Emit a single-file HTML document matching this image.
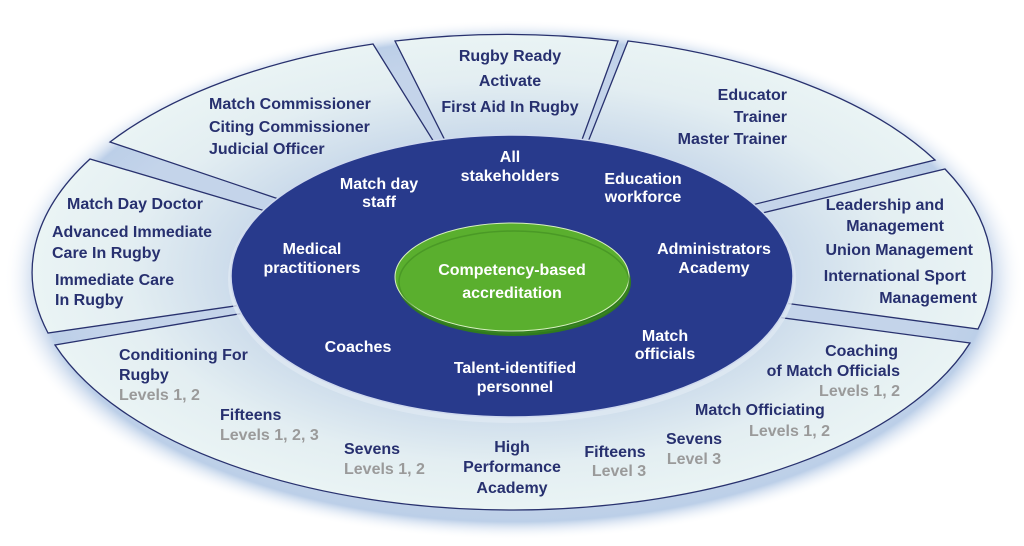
<!DOCTYPE html>
<html><head><meta charset="utf-8"><style>
html,body{margin:0;padding:0;background:#fff;width:1024px;height:546px;overflow:hidden}
svg text{font-family:"Liberation Sans",sans-serif;font-weight:bold;font-size:16px}
.d{fill:#27306f}.w{fill:#fff}.g{fill:#9a9a9a}
</style></head><body>
<svg width="1024" height="546" viewBox="0 0 1024 546" xmlns="http://www.w3.org/2000/svg">
<defs>
<radialGradient id="glow" cx="50%" cy="50%" r="50%">
<stop offset="0.82" stop-color="#c4d4ea"/><stop offset="0.93" stop-color="#bccfe8"/><stop offset="1" stop-color="#fff" stop-opacity="0"/>
</radialGradient>
<radialGradient id="seg" cx="512" cy="272" r="480" gradientUnits="userSpaceOnUse" gradientTransform="translate(512 272) scale(1 0.5) translate(-512 -272)">
<stop offset="0.55" stop-color="#c9d9ea"/><stop offset="0.8" stop-color="#e3eef2"/><stop offset="1" stop-color="#eaf4f4"/>
</radialGradient>
</defs>
<ellipse cx="514" cy="280" rx="510" ry="260" fill="url(#glow)"/>
<g fill="url(#seg)" stroke="#28316e" stroke-width="1.3">
<path d="M400 240 L110 142 A480 238 0 0 1 373 44 L470 200 Z"/>
<path d="M475 200 L395 41 A480 238 0 0 1 618 41 L560 200 Z"/>
<path d="M565 200 L628 41 A480 238 0 0 1 935 160 L650 230 Z"/>
<path d="M650 240 L945 169 A480 238 0 0 1 978 329 L650 285 Z"/>
<path d="M650 300 L970 343 A480 238 0 0 1 55 345 L380 290 Z"/>
<path d="M380 285 L48 333 A480 238 0 0 1 90 159 L380 245 Z"/>
</g>
<ellipse cx="512" cy="279" rx="284" ry="144" fill="#dfe8f2" opacity="0.8"/>
<ellipse cx="512" cy="276" rx="281" ry="141" fill="#283a8c" stroke="#cfd9ee" stroke-width="1.5"/>
<ellipse cx="514" cy="282" rx="117" ry="54" fill="#2f7a1e"/>
<ellipse cx="512" cy="277" rx="117" ry="54" fill="#5aaf2e" stroke="#d8f0c0" stroke-width="1"/>
<ellipse cx="514" cy="282" rx="115" ry="51" fill="none" stroke="#3f8a22" stroke-width="1.5" opacity="0.6"/>

<g class="d">
<text x="209" y="109">Match Commissioner</text>
<text x="209" y="132">Citing Commissioner</text>
<text x="209" y="154">Judicial Officer</text>
</g>
<g class="d" text-anchor="middle">
<text x="510" y="61">Rugby Ready</text>
<text x="510" y="86">Activate</text>
<text x="510" y="112">First Aid In Rugby</text>
</g>
<g class="d" text-anchor="end">
<text x="787" y="100">Educator</text>
<text x="787" y="122">Trainer</text>
<text x="787" y="144">Master Trainer</text>
<text x="944" y="210">Leadership and</text>
<text x="944" y="231">Management</text>
<text x="973" y="255">Union Management</text>
<text x="966" y="281">International Sport</text>
<text x="977" y="303">Management</text>
</g>
<g class="d">
<text x="67" y="209">Match Day Doctor</text>
<text x="52" y="237">Advanced Immediate</text>
<text x="52" y="258">Care In Rugby</text>
<text x="55" y="285">Immediate Care</text>
<text x="55" y="305">In Rugby</text>
<text x="119" y="360">Conditioning For</text>
<text x="119" y="380">Rugby</text>
<text x="220" y="420">Fifteens</text>
<text x="344" y="454">Sevens</text>
<text x="695" y="415">Match Officiating</text>
</g>
<g class="g">
<text x="119" y="400">Levels 1, 2</text>
<text x="220" y="440">Levels 1, 2, 3</text>
<text x="344" y="474">Levels 1, 2</text>
</g>
<g class="d" text-anchor="middle">
<text x="512" y="452">High</text>
<text x="512" y="472">Performance</text>
<text x="512" y="493">Academy</text>
<text x="615" y="457">Fifteens</text>
<text x="694" y="444">Sevens</text>
</g>
<g class="g" text-anchor="middle">
<text x="619" y="476">Level 3</text>
<text x="694" y="464">Level 3</text>
</g>
<text class="g" x="830" y="436" text-anchor="end">Levels 1, 2</text>
<g class="d" text-anchor="end">
<text x="898" y="356">Coaching</text>
<text x="900" y="376">of Match Officials</text>
</g>
<text class="g" x="900" y="396" text-anchor="end">Levels 1, 2</text>

<g class="w" text-anchor="middle">
<text x="510" y="162">All</text>
<text x="510" y="181">stakeholders</text>
<text x="379" y="189">Match day</text>
<text x="379" y="207">staff</text>
<text x="643" y="184">Education</text>
<text x="643" y="202">workforce</text>
<text x="312" y="254">Medical</text>
<text x="312" y="273">practitioners</text>
<text x="714" y="254">Administrators</text>
<text x="714" y="273">Academy</text>
<text x="358" y="352">Coaches</text>
<text x="515" y="373">Talent-identified</text>
<text x="515" y="392">personnel</text>
<text x="665" y="341">Match</text>
<text x="665" y="359">officials</text>
<text x="512" y="275">Competency-based</text>
<text x="512" y="298">accreditation</text>
</g>
</svg>
</body></html>
